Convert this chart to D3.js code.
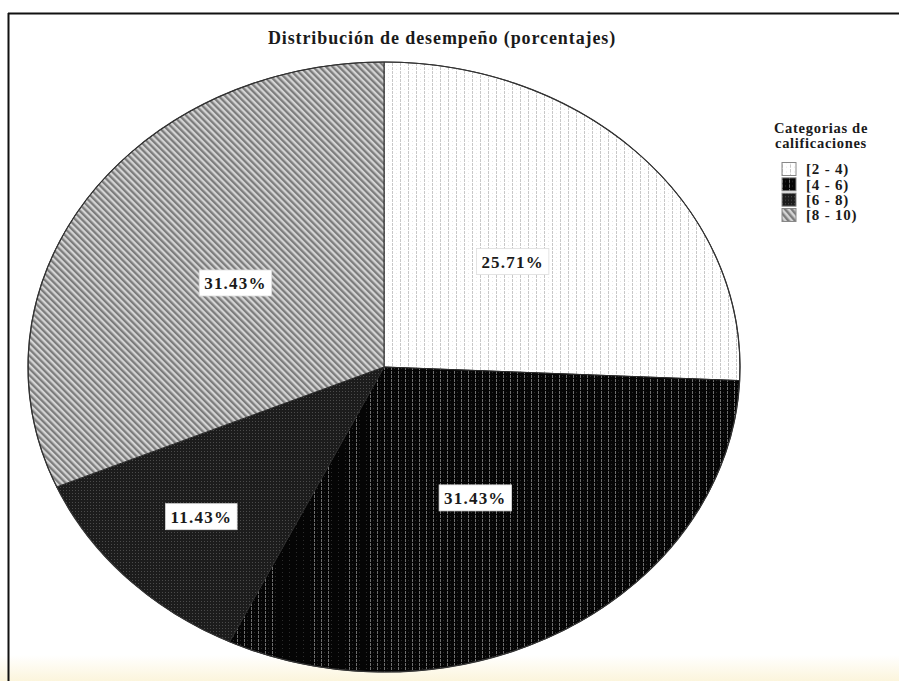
<!DOCTYPE html>
<html>
<head>
<meta charset="utf-8">
<script src="https://cdn.jsdelivr.net/npm/d3@7"></script>
<style>
  html, body { margin: 0; padding: 0; background: #fff; }
  svg { display: block; font-family: "Liberation Serif", "DejaVu Serif", serif; }
</style>
</head>
<body>
<div id="chart"></div>
<script>
// data
const categories = ["[2 - 4)", "[4 - 6)", "[6 - 8)", "[8 - 10)"];
const values = [25.71, 31.43, 11.43, 31.43];
const labels = ["25.71%", "31.43%", "11.43%", "31.43%"];
const title = "Distribución de desempeño (porcentajes)";
const legendTitle = ["Categorias de", "calificaciones"];

const width = 899;
const height = 681;

// ellipse geometry
const cx = 384, cy = 367;
const rx = 356, ry = 305;
const k = ry / rx;

const svg = d3.select("#chart").append("svg")
  .attr("width", width)
  .attr("height", height);

const defs = svg.append("defs");

// bottom yellowish fade (screenshot look)
const grad = defs.append("linearGradient")
  .attr("id", "fade").attr("x1", 0).attr("y1", 0).attr("x2", 0).attr("y2", 1);
grad.append("stop").attr("offset", "0%").attr("stop-color", "#ffffff");
grad.append("stop").attr("offset", "100%").attr("stop-color", "#fcf5dc");

svg.append("rect")
  .attr("x", 0).attr("y", 655).attr("width", width).attr("height", height - 655)
  .attr("fill", "url(#fade)");

// frame
svg.append("line")
  .attr("x1", 8).attr("x2", width).attr("y1", 13.5).attr("y2", 13.5)
  .attr("stroke", "#111").attr("stroke-width", 2);
svg.append("line")
  .attr("x1", 8.5).attr("x2", 8.5).attr("y1", 13).attr("y2", height)
  .attr("stroke", "#111").attr("stroke-width", 2);

////////////////////////////  patterns  ////////////////////////////
const comp = `scale(1, ${1 / k})`;

function pattern(id, w, h, bg, transform) {
  const p = defs.append("pattern")
    .attr("id", id)
    .attr("patternUnits", "userSpaceOnUse")
    .attr("width", w).attr("height", h);
  if (transform) p.attr("patternTransform", transform);
  p.append("rect").attr("width", w).attr("height", h).attr("fill", bg);
  return p;
}

// [2 - 4): white with faint dotted verticals
let p = pattern("p0", 8, 4, "#ffffff", comp);
p.append("rect").attr("x", 0).attr("y", 0).attr("width", 1).attr("height", 3).attr("fill", "#c8c8c8");
p.append("rect").attr("x", 4).attr("y", 2).attr("width", 1).attr("height", 1).attr("fill", "#e8e8e8");

// [4 - 6): black with light dotted verticals
p = pattern("p1", 7, 4, "#050505", comp);
p.append("rect").attr("x", 0).attr("y", 0).attr("width", 1).attr("height", 3).attr("fill", "#6e6e6e");
p.append("rect").attr("x", 3).attr("y", 1).attr("width", 1).attr("height", 1).attr("fill", "#2c2c2c");

// [6 - 8): dark with fine dot grid
p = pattern("p2", 3, 3, "#1c1c1c", comp);
p.append("rect").attr("x", 0).attr("y", 0).attr("width", 1).attr("height", 1).attr("fill", "#4a4a4a");

// [8 - 10): gray diagonal stripes
p = pattern("p3", 4.6, 4.6, "#d4d4d4", `${comp} rotate(-45)`);
p.append("rect").attr("x", 0).attr("y", 0).attr("width", 2.3).attr("height", 4.6).attr("fill", "#7c7c7c");

const fills = ["url(#p0)", "url(#p1)", "url(#p2)", "url(#p3)"];

////////////////////////////  pie  ////////////////////////////
const pie = d3.pie().sort(null).value((d) => d);
const arcs = pie(values);

const arc = d3.arc().innerRadius(0).outerRadius(rx);

const g = svg.append("g")
  .attr("transform", `translate(${cx}, ${cy}) scale(1, ${k})`);

g.selectAll("path.slice")
  .data(arcs)
  .join("path")
  .attr("class", "slice")
  .attr("d", arc)
  .attr("fill", (d, i) => fills[i])
  .attr("stroke", "#2a2a2a")
  .attr("stroke-width", 1)
  .attr("vector-effect", "non-scaling-stroke");

// outline
g.append("ellipse")
  .attr("rx", rx).attr("ry", rx)
  .attr("fill", "none")
  .attr("stroke", "#333")
  .attr("stroke-width", 1.2)
  .attr("vector-effect", "non-scaling-stroke");

// labels (small slices pushed further out)
const labelGroup = svg.append("g");
arcs.forEach((d, i) => {
  const share = d.value / d3.sum(values);
  const r = share < 0.15 ? 0.71 * rx : 0.5 * rx;
  const la = d3.arc().innerRadius(r).outerRadius(r);
  const [x, y] = la.centroid(d);
  const lx = cx + x;
  const ly = cy + y * k;

  const lg = labelGroup.append("g").attr("transform", `translate(${lx}, ${ly})`);
  const t = lg.append("text")
    .attr("text-anchor", "middle")
    .attr("dy", "0.35em")
    .attr("font-size", 17)
    .attr("font-weight", "bold")
    .attr("letter-spacing", 1.2)
    .attr("fill", "#1a1a1a")
    .text(labels[i]);
  const bb = t.node().getBBox();
  lg.insert("rect", "text")
    .attr("x", bb.x - 5).attr("y", -13)
    .attr("width", bb.width + 10).attr("height", 26)
    .attr("fill", "#fff")
    .attr("stroke", "#ddd")
    .attr("stroke-width", 0.8);
});

////////////////////////////  title  ////////////////////////////
svg.append("text")
  .attr("x", 442).attr("y", 44)
  .attr("text-anchor", "middle")
  .attr("font-size", 18)
  .attr("font-weight", "bold")
  .attr("letter-spacing", 0.9)
  .attr("fill", "#1a1a1a")
  .text(title);

////////////////////////////  legend  ////////////////////////////
const legend = svg.append("g");
legend.selectAll("text.lt")
  .data(legendTitle)
  .join("text")
  .attr("class", "lt")
  .attr("x", 821)
  .attr("y", (d, i) => 133 + i * 15)
  .attr("text-anchor", "middle")
  .attr("font-size", 14.5)
  .attr("font-weight", "bold")
  .attr("letter-spacing", 0.7)
  .attr("fill", "#1a1a1a")
  .text((d) => d);

const legendY = d3.scalePoint().domain(categories).range([169, 215]);

const items = legend.selectAll("g.item")
  .data(categories)
  .join("g")
  .attr("class", "item")
  .attr("transform", (d) => `translate(782, ${legendY(d)})`);

items.append("rect")
  .attr("x", 0).attr("y", -6.5)
  .attr("width", 14).attr("height", 13)
  .attr("fill", (d, i) => fills[i])
  .attr("stroke", "#888")
  .attr("stroke-width", 1);

items.append("text")
  .attr("x", 24).attr("y", 0)
  .attr("dy", "0.35em")
  .attr("font-size", 15)
  .attr("font-weight", "bold")
  .attr("letter-spacing", 0.8)
  .attr("fill", "#1a1a1a")
  .text((d) => d);
</script>
</body>
</html>
